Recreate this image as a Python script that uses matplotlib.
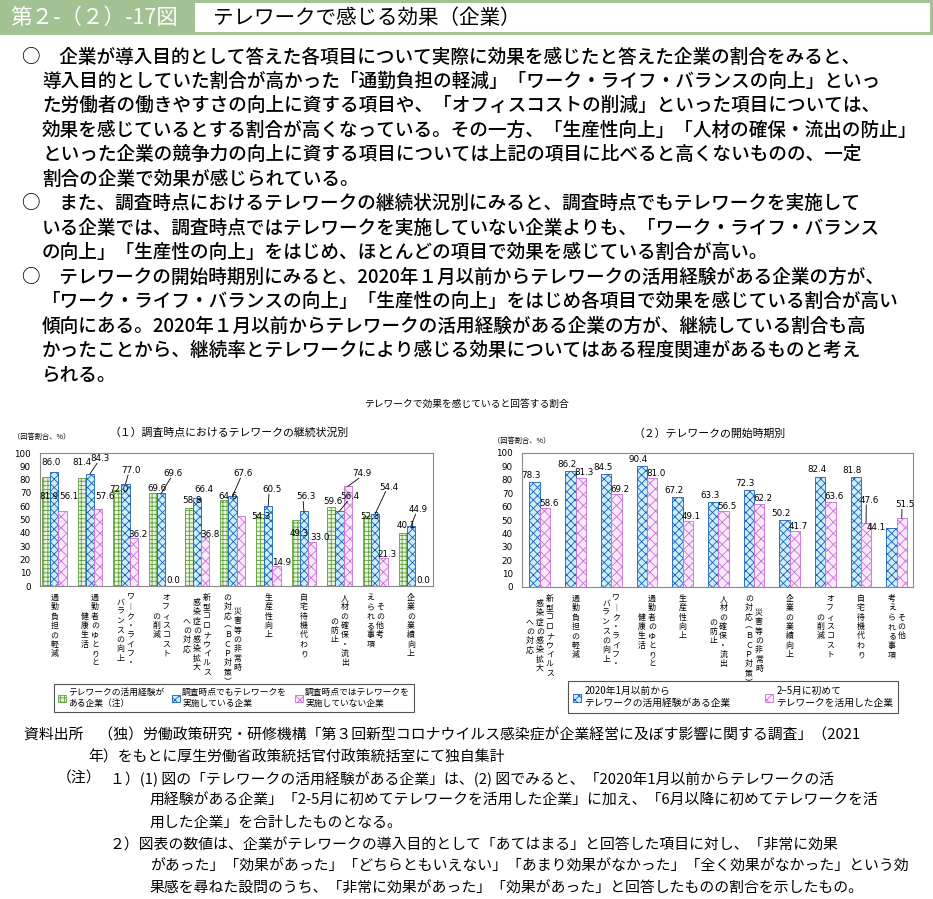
"""第２-（２）-17図 テレワークで感じる効果（企業） を再作成する。

出力: out.png (933x899 px)
"""
import matplotlib

matplotlib.use("Agg")
import matplotlib.pyplot as plt
import numpy as np
from matplotlib.patches import Patch, Rectangle

plt.rcParams["font.family"] = ["Noto Sans CJK JP", "DejaVu Sans"]
plt.rcParams["hatch.linewidth"] = 0.6

W, H = 933, 899
OUTPUT = "out.png"

# ---------------------------------------------------------------- data
# (1) 調査時点におけるテレワークの継続状況別 (columns right -> left)
left_categories = [
    ["通勤負担の軽減"],
    ["通勤者のゆとりと", "健康生活"],
    ["ワーク・ライフ・", "バランスの向上"],
    ["オフィスコスト", "の削減"],
    ["新型コロナウイルス", "感染症の感染拡大", "への対応"],
    ["災害等の非常時", "の対応（ＢＣＰ対策）"],
    ["生産性向上"],
    ["自宅待機代わり"],
    ["人材の確保・流出", "の防止"],
    ["その他考", "えられる事項"],
    ["企業の業績向上"],
]
left_experienced = [81.9, 81.4, 72.0, 69.6, 58.8, 64.6, 54.3, 49.3, 59.6, 52.3, 40.1]
left_continuing = [86.0, 84.3, 77.0, 69.6, 66.4, 67.6, 60.5, 56.3, 56.4, 54.4, 44.9]
left_stopped = [56.1, 57.6, 36.2, 0.0, 36.8, 52.4, 14.9, 33.0, 74.9, 21.3, 0.0]
left_stopped_hidden = [5]  # value label is blanked out in the original

left_legend = [
    "テレワークの活用経験が\nある企業（注）",
    "調査時点でもテレワークを\n実施している企業",
    "調査時点ではテレワークを\n実施していない企業",
]

# (2) テレワークの開始時期別
right_categories = [
    ["新型コロナウイルス", "感染症の感染拡大", "への対応"],
    ["通勤負担の軽減"],
    ["ワーク・ライフ・", "バランスの向上"],
    ["通勤者のゆとりと", "健康生活"],
    ["生産性向上"],
    ["人材の確保・流出", "の防止"],
    ["災害等の非常時", "の対応（ＢＣＰ対策）"],
    ["企業の業績向上"],
    ["オフィスコスト", "の削減"],
    ["自宅待機代わり"],
    ["その他", "考えられる事項"],
]
right_before_2020 = [78.3, 86.2, 84.5, 90.4, 67.2, 63.3, 72.3, 50.2, 82.4, 81.8, 44.1]
right_feb_may = [58.6, 81.3, 69.2, 81.0, 49.1, 56.5, 62.2, 41.7, 63.6, 47.6, 51.5]

right_legend = [
    "2020年1月以前から\nテレワークの活用経験がある企業",
    "2−5月に初めて\nテレワークを活用した企業",
]

yticks = list(range(0, 101, 10))

body_lines = [
    "○　企業が導入目的として答えた各項目について実際に効果を感じたと答えた企業の割合をみると、",
    "導入目的としていた割合が高かった「通勤負担の軽減」「ワーク・ライフ・バランスの向上」といっ",
    "た労働者の働きやすさの向上に資する項目や、「オフィスコストの削減」といった項目については、",
    "効果を感じているとする割合が高くなっている。その一方、「生産性向上」「人材の確保・流出の防止」",
    "といった企業の競争力の向上に資する項目については上記の項目に比べると高くないものの、一定",
    "割合の企業で効果が感じられている。",
    "○　また、調査時点におけるテレワークの継続状況別にみると、調査時点でもテレワークを実施して",
    "いる企業では、調査時点ではテレワークを実施していない企業よりも、「ワーク・ライフ・バランス",
    "の向上」「生産性の向上」をはじめ、ほとんどの項目で効果を感じている割合が高い。",
    "○　テレワークの開始時期別にみると、2020年１月以前からテレワークの活用経験がある企業の方が、",
    "「ワーク・ライフ・バランスの向上」「生産性の向上」をはじめ各項目で効果を感じている割合が高い",
    "傾向にある。2020年１月以前からテレワークの活用経験がある企業の方が、継続している割合も高",
    "かったことから、継続率とテレワークにより感じる効果についてはある程度関連があるものと考え",
    "られる。",
]

note_lines = [
    "資料出所　（独）労働政策研究・研修機構「第３回新型コロナウイルス感染症が企業経営に及ぼす影響に関する調査」（2021",
    "年）をもとに厚生労働省政策統括官付政策統括室にて独自集計",
    "（注）",
    "１）(1) 図の「テレワークの活用経験がある企業」は、(2) 図でみると、「2020年1月以前からテレワークの活",
    "用経験がある企業」「2-5月に初めてテレワークを活用した企業」に加え、「6月以降に初めてテレワークを活",
    "用した企業」を合計したものとなる。",
    "２）図表の数値は、企業がテレワークの導入目的として「あてはまる」と回答した項目に対し、「非常に効果",
    "があった」「効果があった」「どちらともいえない」「あまり効果がなかった」「全く効果がなかった」という効",
    "果感を尋ねた設問のうち、「非常に効果があった」「効果があった」と回答したものの割合を示したもの。",
]

# ---------------------------------------------------------------- styles
GREEN = dict(face="#e9f6dc", line="#5f9f3c", hatch="++++")
BLUE = dict(face="#cdeefc", line="#1560b8", hatch="xxxx")
PINK = dict(face="#fde8fb", line="#c66fd8", hatch="xxx")

# label placement: (dx from group centre, dy from bar value, leader line)
LEFT_LABEL_POS = [
    [(-0.14, -14.5, False), (-0.21, 11.1, False), (-0.18, 0.4, False), (-0.13, 3.6, False),
     (-0.15, 5.6, False), (-0.14, 2.4, False), (-0.21, -1.9, False), (-0.13, -10.0, False),
     (-0.20, 4.1, False), (-0.16, 0.1, False), (-0.14, 5.5, False)],
    [(-0.09, 6.5, False), (0.28, 11.4, True), (0.15, 10.0, True), (0.34, 15.0, True),
     (0.20, 6.0, False), (0.30, 17.0, True), (0.10, 12.0, True), (0.06, 10.7, True),
     (0.30, 10.6, True), (0.37, 20.0, True), (0.21, 12.5, True)],
    [(0.42, 11.3, False), (0.43, 9.8, False), (0.34, 2.6, False), (0.34, 3.8, False),
     (0.37, 2.0, False), (0.37, 2.0, False), (0.38, 3.1, False), (0.45, 3.8, False),
     (0.62, 9.6, True), (0.32, 2.2, False), (0.35, 3.8, False)],
]
RIGHT_LABEL_DEFAULT = [(-0.24, 5.0, False), (0.25, 3.8, False)]
RIGHT_LABEL_OVERRIDE = {
    (0, 10): (-0.56, 0.2, False),
    (1, 9): (0.23, 17.1, True),
    (1, 10): (0.23, 9.9, True),
}

VERTICAL_FORMS = {"ー": "︱", "（": "︵", "）": "︶"}


def fx(px):
    return px / W


def fy(py):
    return 1 - py / H


def vertical(text):
    return "\n".join(VERTICAL_FORMS.get(c, c) for c in text)


def setup_axes(ax, xlim):
    ax.set_xlim(*xlim)
    ax.set_ylim(0, 100)
    ax.set_yticks(yticks)
    ax.set_xticks([])
    ax.tick_params(axis="y", length=0, pad=6.5, labelsize=6.3)
    for lab in ax.get_yticklabels():
        lab.set_family("DejaVu Sans")
    for sp in ax.spines.values():
        sp.set_color("#8a8a8a")
        sp.set_linewidth(0.8)


def draw_bars(ax, series, width):
    k = len(series)
    centres = []
    for j, (vals, st) in enumerate(series):
        x = np.arange(len(vals)) + (j - (k - 1) / 2) * width
        ax.bar(x, vals, width, color=st["face"], edgecolor=st["line"],
               hatch=st["hatch"], linewidth=0.6, zorder=2)
        centres.append(x)
    return centres


def put_label(ax, x_bar, value, x_text, y_text, leader):
    ax.text(x_text, y_text, f"{value:.1f}", ha="center", va="center",
            fontsize=6.3, family="DejaVu Sans", zorder=5)
    if leader:
        ax.plot([x_text - 0.08, x_bar], [y_text - 3.5, value],
                color="black", lw=0.6, zorder=4)


def draw_category_labels(ax, cats, fontsize=5.7, col_gap=7.2, top_gap=5):
    for i, cols in enumerate(cats):
        n = len(cols)
        offs = [((n - 1) / 2 - j) * col_gap for j in range(n)]  # j=0 is rightmost
        k = int(np.argmax([len(c) for c in cols]))
        anchor = ax.annotate(vertical(cols[k]), xy=(i, 0), xycoords=("data", "axes fraction"),
                             xytext=(offs[k], -top_gap), textcoords="offset points",
                             ha="center", va="top", fontsize=fontsize, linespacing=1.05,
                             annotation_clip=False)
        for j, col in enumerate(cols):
            if j == k:
                continue
            ax.annotate(vertical(col), xy=(0.5, 0.5), xycoords=anchor,
                        xytext=(offs[j] - offs[k], 0), textcoords="offset points",
                        ha="center", va="center", fontsize=fontsize, linespacing=1.05,
                        annotation_clip=False)


def legend_handles(styles):
    return [Patch(facecolor=s["face"], edgecolor=s["line"], hatch=s["hatch"], linewidth=0.6)
            for s in styles]


def main():
    fig = plt.figure(figsize=(W / 100, H / 100), dpi=100)

    # header band
    fig.patches.append(Rectangle((0, fy(35)), 1, 35 / H, transform=fig.transFigure,
                                 facecolor="#a3c293", edgecolor="none"))
    fig.patches.append(Rectangle((fx(195), fy(32)), (930 - 195) / W, 29 / H,
                                 transform=fig.transFigure, facecolor="white", edgecolor="none"))
    fig.text(fx(10), fy(18), "第２-（２）-17図", color="white", fontsize=15.5, va="center")
    fig.text(fx(213), fy(18), "テレワークで感じる効果（企業）", color="black", fontsize=14.8,
             va="center")

    # body text
    for i, line in enumerate(body_lines):
        x = 22 if line.startswith("○") else 42
        fig.text(fx(x), fy(57 + i * 24.45), line, fontsize=13.4, va="center",
                 fontweight="medium")

    # chart headings
    fig.text(fx(466), fy(404), "テレワークで効果を感じていると回答する割合", ha="center",
             va="center", fontsize=7)
    fig.text(fx(229), fy(433), "（１）調査時点におけるテレワークの継続状況別", ha="center",
             va="center", fontsize=7.8)
    fig.text(fx(710), fy(434), "（２）テレワークの開始時期別", ha="center", va="center",
             fontsize=7.8)
    fig.text(fx(13), fy(437), "（回答割合、%）", fontsize=5.2, va="center")
    fig.text(fx(493), fy(441), "（回答割合、%）", fontsize=5.2, va="center")

    # (1) left chart
    ax_l = fig.add_axes([fx(40), fy(586), (433 - 40) / W, (586 - 453) / H])
    setup_axes(ax_l, (-0.40, 10.62))
    left_series = [(left_experienced, GREEN), (left_continuing, BLUE), (left_stopped, PINK)]
    centres = draw_bars(ax_l, left_series, 0.23)
    for s, (vals, _) in enumerate(left_series):
        for i, v in enumerate(vals):
            if s == 2 and i in left_stopped_hidden:
                continue
            dx, dy, leader = LEFT_LABEL_POS[s][i]
            put_label(ax_l, centres[s][i], v, i + dx, v + dy, leader)
    draw_category_labels(ax_l, left_categories)

    # (2) right chart
    ax_r = fig.add_axes([fx(522), fy(587), (913 - 522) / W, (587 - 453) / H])
    setup_axes(ax_r, (-0.50, 10.46))
    right_series = [(right_before_2020, BLUE), (right_feb_may, PINK)]
    centres = draw_bars(ax_r, right_series, 0.29)
    for s, (vals, _) in enumerate(right_series):
        for i, v in enumerate(vals):
            dx, dy, leader = RIGHT_LABEL_OVERRIDE.get((s, i), RIGHT_LABEL_DEFAULT[s])
            put_label(ax_r, centres[s][i], v, i + dx, v + dy, leader)
    draw_category_labels(ax_r, right_categories)

    # legends
    leg = fig.legend(legend_handles([GREEN, BLUE, PINK]), left_legend, loc="center",
                     bbox_to_anchor=(fx(234), fy(698)), ncol=3, fontsize=6.3, frameon=True,
                     fancybox=False, edgecolor="#555555", framealpha=1, handlelength=0.9,
                     handleheight=0.9, handletextpad=0.25, columnspacing=0.9, borderpad=0.5)
    leg.get_frame().set_linewidth(0.8)
    leg = fig.legend(legend_handles([BLUE, PINK]), right_legend, loc="center",
                     bbox_to_anchor=(fx(733), fy(697)), ncol=2, fontsize=7.0, frameon=True,
                     fancybox=False, edgecolor="#555555", framealpha=1, handlelength=0.9,
                     handleheight=0.9, handletextpad=0.3, columnspacing=3.5, borderpad=0.5)
    leg.get_frame().set_linewidth(0.8)

    # source and notes
    note_pos = [(24, 735), (88, 757), (57, 779), (110, 779), (150, 801), (150, 823),
                (110, 845), (150, 867), (150, 889)]
    for (x, y), line in zip(note_pos, note_lines):
        fig.text(fx(x), fy(y), line, fontsize=10.7, va="center")

    fig.savefig(OUTPUT, dpi=100)
    print(f"figure saved to {OUTPUT}")


if __name__ == "__main__":
    main()
